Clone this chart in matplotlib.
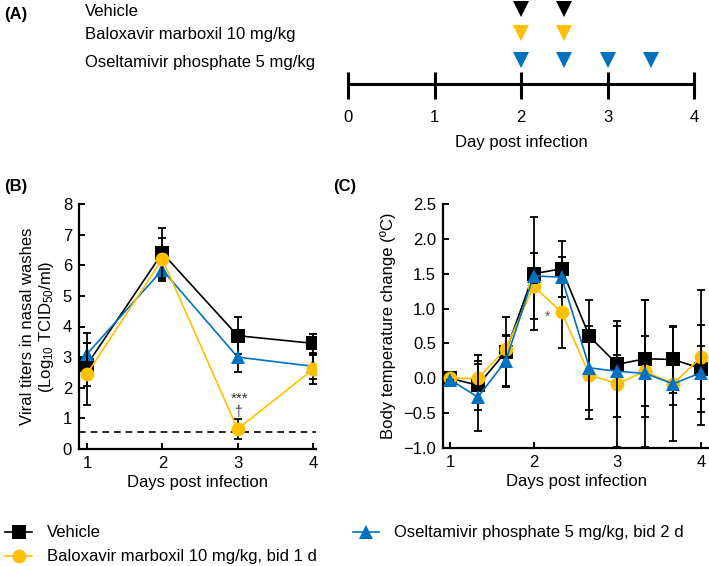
import numpy as np
import matplotlib
matplotlib.use('Agg')
import matplotlib.pyplot as plt
import matplotlib.ticker

plt.rcParams['font.family'] = ['Liberation Sans', 'DejaVu Sans']
plt.rcParams['mathtext.fontset'] = 'custom'
plt.rcParams['mathtext.rm'] = 'Liberation Sans'
plt.rcParams['mathtext.it'] = 'Liberation Sans:italic'
plt.rcParams['font.size'] = 12

BLACK = '#000000'
GOLD = '#FFC000'
BLUE = '#0070C0'

# (A) dosing schedule
dose_groups = ['Vehicle', 'Baloxavir marboxil 10 mg/kg', 'Oseltamivir phosphate 5 mg/kg']
dose_days = [[2, 2.5], [2, 2.5], [2, 2.5, 3, 3.5]]
dose_colors = [BLACK, GOLD, BLUE]
timeline_days = [0, 1, 2, 3, 4]

# (B) viral titers
b_days = [1, 2, 3, 4]
b_vehicle = [2.75, 6.4, 3.7, 3.45]
b_vehicle_err = [0.7, 0.82, 0.6, 0.32]
b_balox = [2.45, 6.2, 0.65, 2.6]
b_balox_err = [1.0, 0.7, 0.32, 0.48]
b_osel = [3.1, 5.85, 3.0, 2.7]
b_osel_err = [0.68, 0.3, 0.5, 0.4]
detection_limit = 0.55

# (C) body temperature change
c_days = [1, 4/3, 5/3, 2, 7/3, 8/3, 3, 10/3, 11/3, 4]
c_vehicle = [0.0, -0.1, 0.38, 1.5, 1.57, 0.6, 0.2, 0.28, 0.27, 0.14]
c_vehicle_err = [0.0, 0.35, 0.5, 0.81, 0.4, 0.52, 0.14, 0.84, 0.48, 0.63]
c_balox = [0.0, 0.0, 0.42, 1.32, 0.95, 0.05, -0.08, 0.1, -0.08, 0.3]
c_balox_err = [0.0, 0.33, 0.2, 0.47, 0.51, 0.63, 0.9, 0.5, 0.3, 0.97]
c_osel = [-0.02, -0.27, 0.25, 1.47, 1.45, 0.15, 0.1, 0.07, -0.08, 0.08]
c_osel_err = [0.0, 0.48, 0.36, 0.1, 0.29, 0.6, 0.65, 1.05, 0.82, 0.38]

labels = ['Vehicle', 'Baloxavir marboxil 10 mg/kg, bid 1 d', 'Oseltamivir phosphate 5 mg/kg, bid 2 d']

W, H = 709, 566
fig = plt.figure(figsize=(W / 100, H / 100), dpi=100)


def px_axes(left, top, right, bottom):
    return fig.add_axes([left / W, 1 - bottom / H, (right - left) / W, (bottom - top) / H])


# ---------- panel A ----------
axa = px_axes(0, 0, W, 160)
px_per_day = 86.5
axa.set_xlim(-348 / px_per_day, (W - 348) / px_per_day)
axa.set_ylim(160, 0)
axa.axis('off')
row_y = [11, 35, 62]
for name, days, col, y in zip(dose_groups, dose_days, dose_colors, row_y):
    axa.text(85 / W, 1 - y / 160, name, transform=axa.transAxes, ha='left', va='center')
    axa.plot(days, [y - 2] * len(days), linestyle='none', marker='v', ms=11.5, color=col,
             markeredgewidth=0)
axa.plot([timeline_days[0], timeline_days[-1]], [84, 84], color='black', lw=2.2, solid_capstyle='butt')
for d in timeline_days:
    axa.plot([d, d], [72, 99], color='black', lw=2.2, solid_capstyle='butt')
    axa.text(d, 117, str(d), ha='center', va='center')
axa.text(2, 143, 'Day post infection', ha='center', va='center')
fig.text(4 / W, 1 - 15 / H, '(A)', fontweight='bold', va='center')


def style_axis(ax):
    for s in ['top', 'right']:
        ax.spines[s].set_visible(False)
    for s in ['left', 'bottom']:
        ax.spines[s].set_linewidth(1.6)
    ax.tick_params(direction='in', length=4, width=1.4, labelsize=12, pad=5)


def draw(ax, x, y, err, color, marker, ms, z):
    ax.errorbar(x, y, yerr=err, fmt='none', ecolor='black', elinewidth=1.3, capsize=3,
                capthick=1.3, zorder=z)
    line, = ax.plot(x, y, color=color, lw=1.2, marker=marker, ms=ms, markeredgewidth=0, zorder=z + 0.5)
    return line


# ---------- panel B ----------
axb = px_axes(79, 204, 316, 449)
style_axis(axb)
axb.set_xlim(0.894, 4.04)
axb.set_ylim(0, 8)
axb.set_xticks(b_days)
axb.set_yticks(range(0, 9))
axb.axhline(detection_limit, color='black', lw=1.2, ls=(0, (4, 3)), zorder=1)
h1 = draw(axb, b_days, b_vehicle, b_vehicle_err, BLACK, 's', 9.5, 2)
h3 = draw(axb, b_days, b_osel, b_osel_err, BLUE, '^', 10, 3)
h2 = draw(axb, b_days, b_balox, b_balox_err, GOLD, 'o', 10, 4)
axb.text(3.03, 1.65, '***', ha='center', va='center', fontsize=11, color='#333333')
axb.text(3, 1.2, '\u2020', ha='center', va='center', fontsize=10, color='#333333')
axb.set_xlabel('Days post infection', labelpad=3)
axb.set_ylabel('Viral titers in nasal washes\n(Log$_{10}$ TCID$_{50}$/ml)', labelpad=5,
               linespacing=1.1)
fig.text(4 / W, 1 - 187 / H, '(B)', fontweight='bold', va='center')

# ---------- panel C ----------
axc = px_axes(443, 204, 709, 448)
style_axis(axc)
axc.set_xlim(0.916, 4.096)
axc.set_ylim(-1.0, 2.5)
axc.set_xticks([1, 2, 3, 4])
axc.set_yticks(np.arange(-1.0, 2.51, 0.5))
axc.yaxis.set_major_formatter(matplotlib.ticker.FuncFormatter(
    lambda v, pos: ('%.1f' % v).replace('-', '\u2212')))
draw(axc, c_days, c_vehicle, c_vehicle_err, BLACK, 's', 9.5, 2)
draw(axc, c_days, c_balox, c_balox_err, GOLD, 'o', 10, 3)
draw(axc, c_days, c_osel, c_osel_err, BLUE, '^', 10, 4)
axc.text(2.17, 0.88, '*', ha='center', va='center', fontsize=10, color='#555555')
axc.set_xlabel('Days post infection', labelpad=3)
axc.set_ylabel('Body temperature change (\u00baC)', labelpad=5)
fig.text(333 / W, 1 - 187 / H, '(C)', fontweight='bold', va='center')

# ---------- legend ----------
leg = fig.legend([h1, h2, h3], labels, ncol=2, loc='upper left', frameon=False,
                 bbox_to_anchor=(-3 / W, 1 - 517 / H), borderpad=0, handlelength=1.6,
                 handletextpad=0.9, columnspacing=2.15, labelspacing=0.55)

fig.savefig('out.png', dpi=100)
